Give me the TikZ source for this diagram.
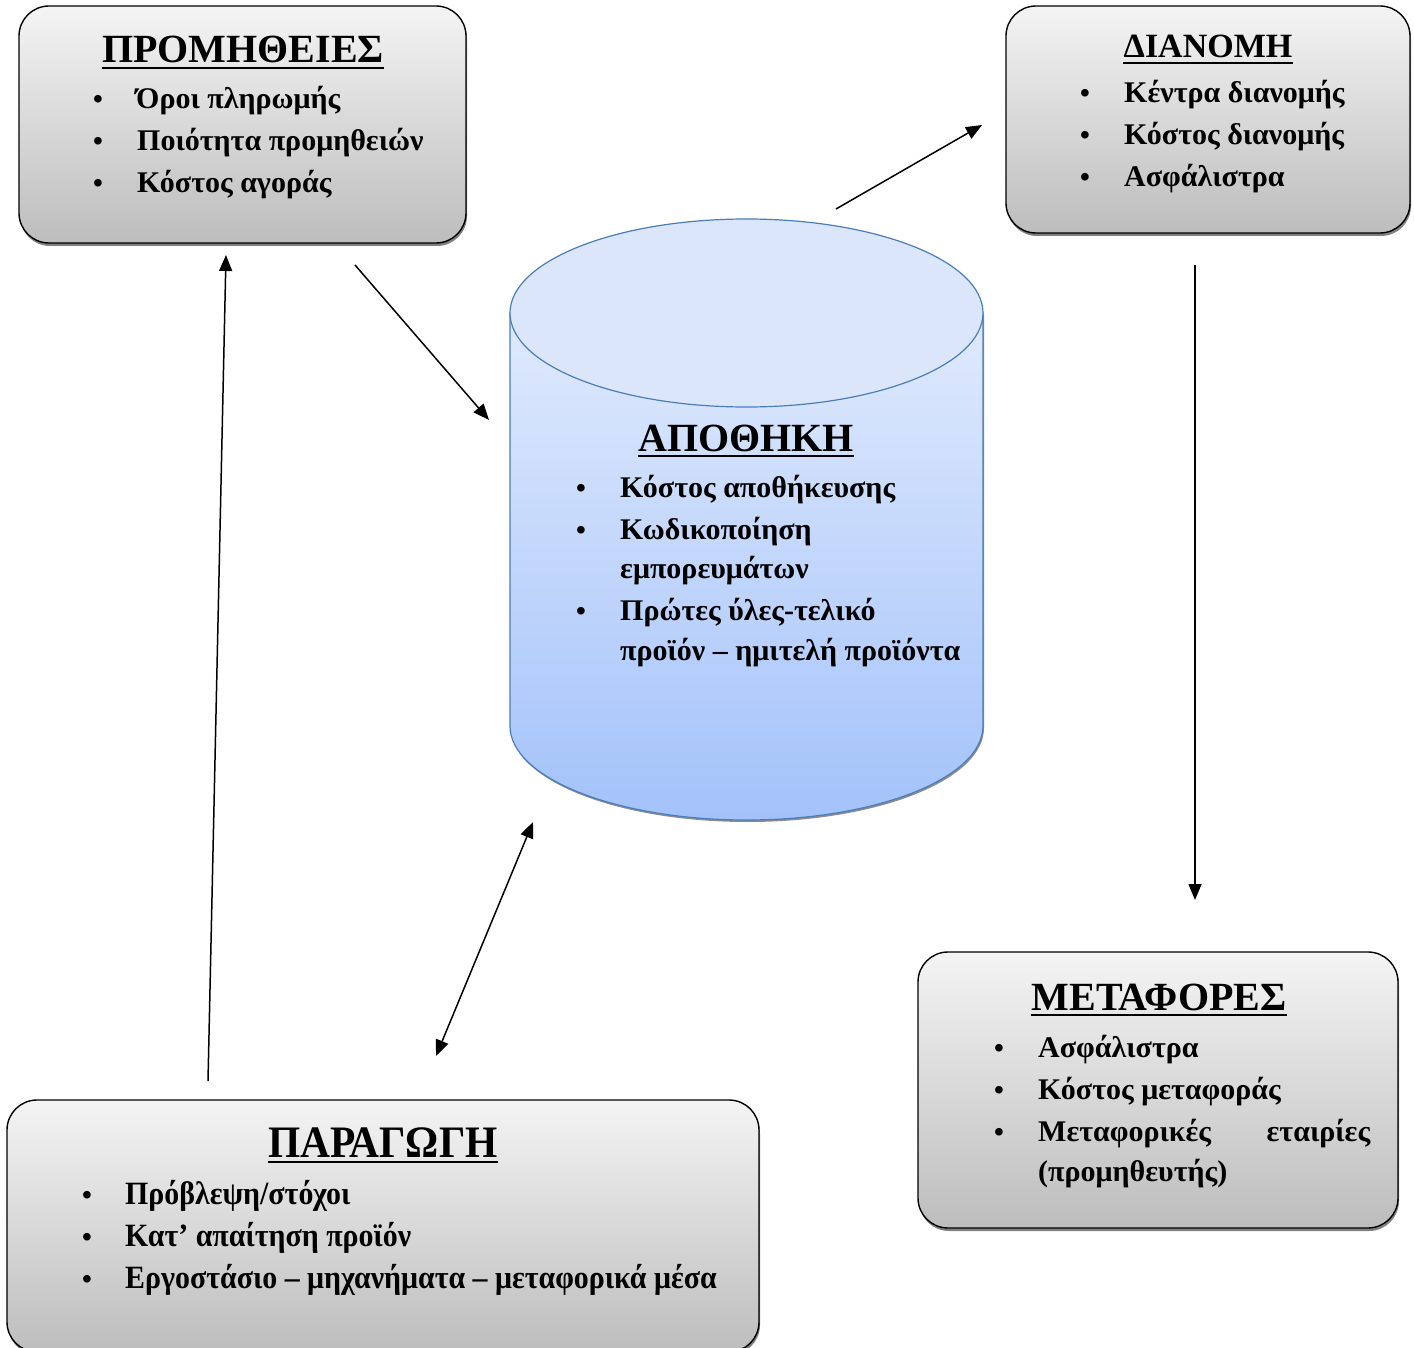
\documentclass[tikz,border=0pt]{standalone}
\usepackage{fontspec}
\setmainfont{Liberation Serif}
\newfontfamily\narrowfont[FakeStretch=0.92]{Liberation Serif}
\usetikzlibrary{shadows,arrows.meta}

\definecolor{panelTop}{HTML}{F4F4F4}
\definecolor{panelBot}{HTML}{BDBDBD}
\definecolor{tankTop}{HTML}{E0EAFD}
\definecolor{tankBot}{HTML}{A3C2FA}
\definecolor{tankRim}{HTML}{4A7EBB}
\definecolor{tankLid}{HTML}{DCE6FB}

\tikzset{
  panel/.style={draw=black, line width=1.4pt, rounded corners=30pt,
    top color=panelTop, bottom color=panelBot, inner sep=0pt,
    drop shadow={shadow xshift=1pt, shadow yshift=-3pt, fill=black!50, opacity=1}},
  heading/.style={inner sep=0pt, anchor=base, font=\bfseries\fontsize{40}{48}\selectfont},
  entry/.style={inner sep=0pt, anchor=base west, font=\bfseries\fontsize{30}{36}\selectfont},
  dot/.style={inner sep=0pt, anchor=base, font=\bfseries\fontsize{28}{34}\selectfont},
  narrowheading/.style={heading, font=\narrowfont\bfseries\fontsize{45}{50}\selectfont},
  narrowentry/.style={entry, font=\narrowfont\bfseries\fontsize{32.5}{38}\selectfont},
  rule/.style={line width=2.6pt},
  flow/.style={line width=1.5pt, -{Triangle[length=16pt,width=13pt]}},
  twoway/.style={line width=1.5pt, {Triangle[length=16pt,width=13pt]}-{Triangle[length=16pt,width=13pt]}},
}

\begin{document}
\begin{tikzpicture}[x=1pt,y=-1pt]
\useasboundingbox (0,0) rectangle (1414,1348);

% ---- storage tank ----
\fill[black!45] (511,315) -- (511,728) arc[start angle=180,end angle=0,x radius=236.5,y radius=94] -- (984,315) -- cycle;
\path[top color=tankTop, bottom color=tankBot, draw=tankRim, line width=1.2pt]
  (510,313) -- (510,726) arc[start angle=180,end angle=0,x radius=236.5,y radius=94] -- (983,313) -- cycle;
\draw[fill=tankLid, draw=tankRim, line width=1.2pt] (746.5,313) ellipse [x radius=236.5, y radius=94];

\node[heading] (wt) at (746,451) {ΑΠΟΘΗΚΗ};
\draw[rule] ([yshift=-5pt]wt.base west) -- ([yshift=-5pt]wt.base east);
\node[dot] (wb1) at (581,497) {•};
\node[entry] (wi1) at (620,497) {Κόστος αποθήκευσης};
\node[dot] (wb2) at (581,539) {•};
\node[entry] (wi2) at (620,539) {Κωδικοποίηση};
\node[entry] (wi2b) at (620,578) {εμπορευμάτων};
\node[dot] (wb3) at (581,620) {•};
\node[entry] (wi3) at (620,620) {Πρώτες ύλες-τελικό};
\node[entry] (wi3b) at (620,660) {προϊόν – ημιτελή προϊόντα};

% ---- supplies ----
\node[panel, minimum width=447pt, minimum height=237pt] (sup) at (242.5,124.5) {};
\node[heading] (st) at (243,63) {ΠΡΟΜΗΘΕΙΕΣ};
\draw[rule] ([yshift=-5pt]st.base west) -- ([yshift=-5pt]st.base east);
\node[dot] (sb1) at (98,109) {•};
\node[entry] (si1) at (136,109) {Όροι πληρωμής};
\node[dot] (sb2) at (98,151) {•};
\node[entry] (si2) at (137,151) {Ποιότητα προμηθειών};
\node[dot] (sb3) at (98,193) {•};
\node[entry] (si3) at (137,193) {Κόστος αγοράς};

% ---- distribution ----
\node[panel, minimum width=404pt, minimum height=227pt] (dis) at (1208,119.5) {};
\node[heading, font=\bfseries\fontsize{34}{40}\selectfont] (dt) at (1208,58) {ΔΙΑΝΟΜΗ};
\draw[rule] ([yshift=-5pt]dt.base west) -- ([yshift=-5pt]dt.base east);
\node[dot] (db1) at (1085,103) {•};
\node[entry] (di1) at (1124,103) {Κέντρα διανομής};
\node[dot] (db2) at (1085,145) {•};
\node[entry] (di2) at (1124,145) {Κόστος διανομής};
\node[dot] (db3) at (1085,187) {•};
\node[entry] (di3) at (1124,187) {Ασφάλιστρα};

% ---- transport ----
\node[panel, minimum width=480pt, minimum height=276pt] (tra) at (1158,1090) {};
\node[heading] (tt) at (1159,1010) {ΜΕΤΑΦΟΡΕΣ};
\draw[rule] ([yshift=-5pt]tt.base west) -- ([yshift=-5pt]tt.base east);
\node[dot] (tb1) at (999,1057) {•};
\node[entry] (ti1) at (1038,1057) {Ασφάλιστρα};
\node[dot] (tb2) at (999,1099) {•};
\node[entry] (ti2) at (1038,1099) {Κόστος μεταφοράς};
\node[dot] (tb3) at (999,1141) {•};
\node[entry] (ti3) at (1038,1141) {\makebox[332pt][s]{Μεταφορικές\hfill εταιρίες}};
\node[entry] (ti3b) at (1038,1181) {(προμηθευτής)};

% ---- production ----
\node[panel, minimum width=752pt, minimum height=252pt] (pro) at (383,1226) {};
\node[narrowheading] (pt) at (383,1157) {ΠΑΡΑΓΩΓΗ};
\draw[rule] ([yshift=-5pt]pt.base west) -- ([yshift=-5pt]pt.base east);
\node[dot] (pb1) at (87,1204) {•};
\node[narrowentry] (pi1) at (125,1204) {Πρόβλεψη/στόχοι};
\node[dot] (pb2) at (87,1246) {•};
\node[narrowentry] (pi2) at (125,1246) {Κατ’ απαίτηση προϊόν};
\node[dot] (pb3) at (87,1288) {•};
\node[narrowentry] (pi3) at (125,1288) {Εργοστάσιο – μηχανήματα – μεταφορικά μέσα};

% ---- flows ----
\coordinate (s2w) at (355,265);
\coordinate (w2sEnd) at (489,420);
\coordinate (w2d) at (836,209);
\coordinate (d2End) at (982,125);
\coordinate (d2t) at (1195,265);
\coordinate (t2End) at (1195,900);
\coordinate (p2s) at (208,1081);
\coordinate (s2End) at (226,255);
\coordinate (pw1) at (436,1056);
\coordinate (pw2) at (533,822);

\draw[flow] (s2w) -- (w2sEnd);
\draw[flow] (w2d) -- (d2End);
\draw[flow] (d2t) -- (t2End);
\draw[flow] (p2s) -- (s2End);
\draw[twoway] (pw1) -- (pw2);
\end{tikzpicture}
\end{document}
